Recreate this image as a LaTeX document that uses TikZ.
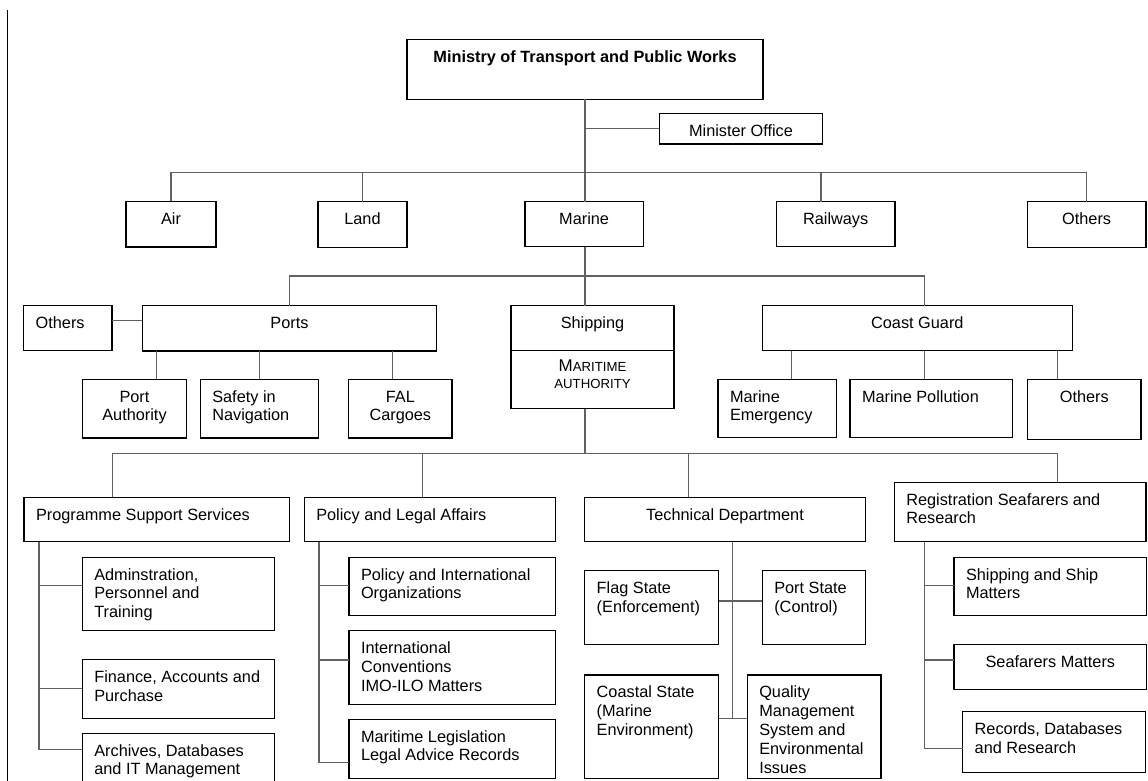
\documentclass[tikz,border=0pt]{standalone}
\usepackage{fontspec}
\setmainfont{Liberation Sans}
\newcommand\orgfont{\fontsize{16.3}{18.9}\selectfont}

% \unitbox{name}{x1}{y1}{x2}{y2}{l|c}{text}: framed unit with its label set at the top
\newcommand\unitbox[7]{%
  \pgfmathsetmacro\ubw{#4-#2}%
  \pgfmathsetmacro\ubh{#5-#3}%
  \node[unit, minimum width=\ubw pt, minimum height=\ubh pt] (#1) at (#2,#3) {};%
  \if l#6%
    \node[lbl, anchor=north west, align=left] (#1-t) at ([xshift=12pt,yshift=-9.5pt]#1.north west) {\strut #7};%
  \else
    \node[lbl, anchor=north, align=center] (#1-t) at ([yshift=-9.5pt]#1.north) {\strut #7};%
  \fi}

\begin{document}
\begin{tikzpicture}[x=1pt, y=-1pt,
  unit/.style={draw=black, line width=1.1pt, inner sep=0pt, outer sep=0pt, anchor=north west},
  lbl/.style={inner sep=0pt, outer sep=0pt, font=\orgfont, text=black},
  link/.style={draw=black!62, line width=1.1pt},
  rule/.style={draw=black, line width=1.1pt}]

\useasboundingbox (0,0) rectangle (1148,781);
\clip (0,0) rectangle (1148,781);

% page margin rule
\draw[line width=1.3pt] (7.7,10) -- (7.7,781);

% ---------- ministry level ----------
\unitbox{ministry}{407}{39.3}{763}{99.3}{c}{\textbf{Ministry of Transport and Public Works}}
\unitbox{minister}{659.3}{113.3}{822.7}{144}{c}{Minister Office}

\unitbox{air}{126}{201.3}{216}{247}{c}{Air}
\unitbox{land}{318}{201.7}{407}{247.3}{c}{Land}
\unitbox{marine}{525}{201.7}{643.3}{246.7}{c}{Marine}
\unitbox{railways}{776.3}{201.7}{895}{246.7}{c}{Railways}
\unitbox{others1}{1027.3}{201.7}{1146}{247.7}{c}{Others}

% ---------- marine level ----------
\unitbox{portsothers}{23.7}{305.7}{112}{350.7}{l}{Others}
\unitbox{ports}{142.3}{305.7}{436.7}{351}{c}{Ports}
\unitbox{shipping}{511}{305.7}{674}{408.7}{c}{Shipping}
\unitbox{coast}{762.3}{305.7}{1072.3}{350.7}{c}{Coast Guard}

\coordinate (shipdiv) at (0,350.7);
\draw[rule] (shipping.west |- shipdiv) -- (shipping.east |- shipdiv);
\node[lbl, anchor=base] (maritime) at (592.5,371)
  {\fontsize{17}{18}\selectfont M\fontsize{13.2}{18}\selectfont ARITIME};
\node[lbl, anchor=base] (authority) at (592.5,388.3)
  {\fontsize{13.2}{18}\selectfont AUTHORITY};

\unitbox{pauth}{82.3}{379.3}{186.7}{438}{c}{Port\\Authority}
\unitbox{safety}{200.3}{379.3}{318.3}{438}{l}{Safety in\\Navigation}
\unitbox{fal}{348.7}{379.3}{452}{438}{c}{FAL\\Cargoes}

\unitbox{memerg}{718}{379.3}{836.7}{437.3}{l}{Marine\\Emergency}
\unitbox{mpoll}{850}{379.3}{1012.7}{437.3}{l}{Marine Pollution}
\unitbox{others3}{1027.7}{379.3}{1141}{439.3}{c}{Others}

% ---------- maritime authority departments ----------
\unitbox{pss}{24}{497.3}{289.3}{541.7}{l}{Programme Support Services}
\unitbox{pla}{304.3}{497.3}{555.7}{541.7}{l}{Policy and Legal Affairs}
\unitbox{tech}{584.7}{497.3}{865.3}{541.7}{c}{Technical Department}
\unitbox{reg}{894.3}{482.3}{1146}{541.7}{l}{Registration Seafarers and\\Research}

\unitbox{admin}{82.3}{557.3}{274.3}{630.7}{l}{Adminstration,\\Personnel and\\Training}
\unitbox{fin}{82.3}{659.7}{274.3}{718.3}{l}{Finance, Accounts and\\Purchase}
\unitbox{arch}{82.3}{733.3}{274.3}{792}{l}{Archives, Databases\\and IT Management}

\unitbox{polint}{349}{557.3}{555.7}{615.7}{l}{Policy and International\\Organizations}
\unitbox{intconv}{349}{630.7}{555.7}{704.3}{l}{International\\Conventions\\IMO-ILO Matters}
\unitbox{marleg}{349}{719.3}{555.7}{778.3}{l}{Maritime Legislation\\Legal Advice Records}

\unitbox{flag}{584.7}{570.7}{718.7}{644.3}{l}{Flag State\\(Enforcement)}
\unitbox{portst}{762.3}{570.7}{865.3}{644.3}{l}{Port State\\(Control)}
\unitbox{coastal}{584.7}{675}{718.7}{778.3}{l}{Coastal State\\(Marine\\Environment)}
\unitbox{quality}{747.3}{675}{881}{778.3}{l}{Quality\\Management\\System and\\Environmental\\Issues}

\unitbox{shipm}{954}{557.3}{1146.7}{615.7}{l}{Shipping and Ship\\Matters}
\unitbox{seaf}{954}{644.3}{1146.7}{689.3}{c}{Seafarers Matters}
\unitbox{records}{962.7}{711.7}{1145.7}{772.7}{l}{Records, Databases\\and Research}

% ---------- connectors ----------
% ministry level
\coordinate (bus1) at (585,172.7);
\coordinate (rwjoin) at (821,172.7);
\draw[link] (ministry.south) -- (ministry.south |- marine.north);
\draw[link] (ministry.south |- minister.west) -- (minister.west);
\draw[link] (air.north) |- (bus1) -| (others1.north);
\draw[link] (land.north) -- (land.north |- bus1);
\draw[link] (rwjoin) -- (rwjoin |- railways.north);

% marine level
\coordinate (bus2) at (585,276);
\coordinate (cgjoin) at (924.3,276);
\draw[link] (bus2 |- marine.south) -- (bus2 |- shipping.north);
\draw[link] (ports.north) |- (cgjoin) -- (cgjoin |- coast.north);
\coordinate (othjoin) at (0,320.7);
\draw[link] (portsothers.east |- othjoin) -- (ports.west |- othjoin);

\coordinate (pa-x) at (156.3,0);
\coordinate (fal-x) at (392.7,0);
\draw[link] (pa-x |- ports.south) -- (pa-x |- pauth.north);
\draw[link] (safety.north |- ports.south) -- (safety.north);
\draw[link] (fal-x |- ports.south) -- (fal-x |- fal.north);

\coordinate (me-x) at (791.7,0);
\coordinate (mp-x) at (924.3,0);
\coordinate (co-x) at (1057.3,0);
\draw[link] (me-x |- coast.south) -- (me-x |- memerg.north);
\draw[link] (mp-x |- coast.south) -- (mp-x |- mpoll.north);
\draw[link] (co-x |- coast.south) -- (co-x |- others3.north);

% maritime authority level
\coordinate (bus3) at (585,453.3);
\coordinate (pss-x) at (112.7,453.3);
\coordinate (pla-x) at (422.7,453.3);
\coordinate (tech-x) at (688.3,453.3);
\coordinate (reg-x) at (1057.3,453.3);
\draw[link] (bus3 |- shipping.south) -- (bus3);
\draw[link] (pss-x |- pss.north) -- (pss-x) -- (reg-x) -- (reg-x |- reg.north);
\draw[link] (pla-x) -- (pla-x |- pla.north);
\draw[link] (tech-x) -- (tech-x |- tech.north);

% programme support services
\coordinate (admin-br) at (39,585.7);
\coordinate (fin-br) at (39,688.3);
\coordinate (arch-br) at (39,749.3);
\draw[link] (arch-br |- pss.south) -- (arch-br) -- (arch-br -| arch.west);
\draw[link] (admin-br) -- (admin-br -| admin.west);
\draw[link] (fin-br) -- (fin-br -| fin.west);

% policy and legal affairs
\coordinate (polint-br) at (319,585.7);
\coordinate (intconv-br) at (319,660);
\coordinate (marleg-br) at (319,762.7);
\draw[link] (marleg-br |- pla.south) -- (marleg-br) -- (marleg-br -| marleg.west);
\draw[link] (polint-br) -- (polint-br -| polint.west);
\draw[link] (intconv-br) -- (intconv-br -| intconv.west);

% technical department
\coordinate (tech-sp) at (732.3,718.3);
\coordinate (flag-br) at (732.3,601);
\draw[link] (tech-sp |- tech.south) -- (tech-sp);
\draw[link] (flag.east |- flag-br) -- (portst.west |- flag-br);
\draw[link] (coastal.east |- tech-sp) -- (quality.west |- tech-sp);

% registration seafarers and research
\coordinate (ship-br) at (924.3,585.7);
\coordinate (seaf-br) at (924.3,660);
\coordinate (rec-br) at (924.3,748.3);
\draw[link] (rec-br |- reg.south) -- (rec-br) -- (rec-br -| records.west);
\draw[link] (ship-br) -- (ship-br -| shipm.west);
\draw[link] (seaf-br) -- (seaf-br -| seaf.west);

\end{tikzpicture}
\end{document}
